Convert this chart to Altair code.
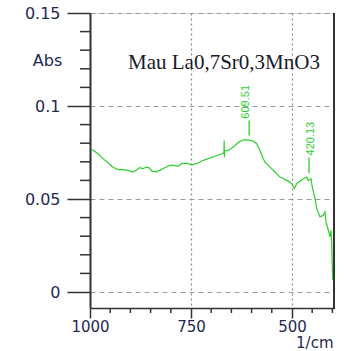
import altair as alt
import pandas as pd

# ---- data ----
wavenumber = [995.0, 980.2, 967.8, 955.4, 943.1, 930.7, 918.3, 905.9, 893.6, 885.4,
              877.0, 868.8, 860.6, 853.9, 846.5, 835.9, 827.5, 815.1, 802.7, 792.1,
              782.2, 773.0, 760.6, 748.3, 735.9, 723.5, 707.2, 690.6, 674.0, 668.5,
              667.9, 667.3, 666.6, 657.7, 645.3, 636.9, 628.7, 620.5, 608.1, 595.8,
              587.4, 579.2, 571.0, 566.8, 554.4, 542.0, 529.7, 522.0, 517.3, 509.1,
              500.7, 494.3, 488.3, 480.2, 472.0, 463.6, 459.6, 452.9, 449.7, 443.0,
              438.8, 430.7, 422.5, 418.3, 415.8, 410.1, 405.9, 403.4, 401.7, 399.2]
absorbance = [0.0766, 0.0743, 0.0717, 0.0695, 0.0671, 0.0658, 0.0658, 0.0654, 0.0645, 0.0654,
              0.0668, 0.0663, 0.0671, 0.0668, 0.0650, 0.0645, 0.0654, 0.0668, 0.0681, 0.0681,
              0.0675, 0.0690, 0.0693, 0.0684, 0.0690, 0.0704, 0.0717, 0.0730, 0.0743, 0.0748,
              0.0815, 0.0725, 0.0758, 0.0761, 0.0779, 0.0797, 0.0811, 0.0818, 0.0818, 0.0811,
              0.0797, 0.0761, 0.0717, 0.0698, 0.0671, 0.0645, 0.0618, 0.0612, 0.0604, 0.0596,
              0.0583, 0.0556, 0.0583, 0.0596, 0.0609, 0.0618, 0.0600, 0.0609, 0.0564, 0.0502,
              0.0449, 0.0404, 0.0413, 0.0430, 0.0377, 0.0332, 0.0296, 0.0332, 0.0261, 0.0064]

peak_labels = ["609.51", "420.13"]
peak_x = [606.0, 457.9]          # marker positions (as drawn)
peak_text_x = [614.0, 453.0]
peak_line_low = [0.0841, 0.0638]
peak_line_high = [0.0922, 0.0723]
peak_text_y = [0.0932, 0.0734]

y_major = [0, 0.05, 0.1, 0.15]
y_minor = [0.01, 0.02, 0.03, 0.04, 0.06, 0.07, 0.08, 0.09, 0.11, 0.12, 0.13, 0.14]
x_major = [1000, 750, 500]
x_minor = [950, 900, 850, 800, 700, 650, 600, 550, 450, 400]

sample_title = "Mau La0,7Sr0,3MnO3"
x_title = "1/cm"
y_title = "Abs"

# ---- styling ----
W, H = 244, 295
GREEN = "#2fcf2f"
AX = "#333333"
LBL = "#1f2a50"
FONT = "DejaVu Sans"

xscale = alt.Scale(domain=[1000, 396], nice=False, zero=False)
yscale = alt.Scale(domain=[-0.0086, 0.15], nice=False, zero=False)

spec = pd.DataFrame({"wn": wavenumber, "a": absorbance})

line = alt.Chart(spec).mark_line(color=GREEN, strokeWidth=1.2).encode(
    x=alt.X("wn:Q", scale=xscale,
            axis=alt.Axis(values=x_major, format="d", tickSize=10, tickWidth=1.5,
                          tickColor=AX, domainColor=AX, domainWidth=1.5,
                          grid=True, gridDash=[2, 3], gridColor="#8a8a8a", gridWidth=1.2,
                          labelFont=FONT, labelFontSize=15, labelColor=LBL,
                          labelPadding=1, labelFlush=False, labelOverlap=False,
                          title=x_title, titleFont=FONT, titleFontSize=15,
                          titleFontWeight="normal", titleColor=LBL,
                          titleX=243, titleY=34, titleAlign="right",
                          titleBaseline="middle")),
    y=alt.Y("a:Q", scale=yscale,
            axis=alt.Axis(values=y_major,
                          labelExpr="datum.value == 0 ? '0' : format(datum.value, '.2~f')",
                          tickSize=23, tickWidth=1.5, tickColor=AX,
                          domainColor=AX, domainWidth=2,
                          grid=True, gridDash=[5, 4], gridColor="#9a9a9a", gridWidth=1.2,
                          labelFont=FONT, labelFontSize=16, labelColor=LBL,
                          labelPadding=7, labelFlush=False, labelOverlap=False,
                          title=y_title, titleFont=FONT, titleFontSize=16,
                          titleFontWeight="normal", titleColor=LBL, titleAngle=0,
                          titleX=-43, titleY=47, titleAlign="center",
                          titleBaseline="middle")),
)

ymin = alt.Chart(pd.DataFrame({"v": y_minor})).mark_rule(color=AX, strokeWidth=1.5).encode(
    y=alt.Y("v:Q", scale=yscale),
    x=alt.value(-10), x2=alt.value(0),
)
xmin = alt.Chart(pd.DataFrame({"v": x_minor})).mark_rule(color=AX, strokeWidth=1.5).encode(
    x=alt.X("v:Q", scale=xscale),
    y=alt.value(H), y2=alt.value(H + 5),
)
border = alt.Chart(pd.DataFrame({"v": [0]})).mark_rule(color=AX, strokeWidth=2).encode(
    x=alt.value(W), y=alt.value(0), y2=alt.value(H + 1),
)

peaks = pd.DataFrame({"label": peak_labels, "x": peak_x, "tx": peak_text_x,
                      "lo": peak_line_low, "hi": peak_line_high, "ty": peak_text_y})
prules = alt.Chart(peaks).mark_rule(color=GREEN, strokeWidth=1.3).encode(
    x=alt.X("x:Q", scale=xscale),
    y=alt.Y("lo:Q", scale=yscale),
    y2="hi:Q",
)
ptext = alt.Chart(peaks).mark_text(color=GREEN, angle=270, align="left",
                                   baseline="middle", font="Liberation Sans",
                                   fontSize=11).encode(
    x=alt.X("tx:Q", scale=xscale),
    y=alt.Y("ty:Q", scale=yscale),
    text="label:N",
)

title = alt.Chart(pd.DataFrame({"t": [sample_title]})).mark_text(
    font="Liberation Serif", fontSize=21, color="#1a1a2a",
    align="center", baseline="alphabetic").encode(
    x=alt.value(134), y=alt.value(56), text="t:N")

chart = alt.layer(line, ymin, xmin, border, prules, ptext, title).properties(
    width=W, height=H,
    padding={"left": 90, "top": 13, "right": 10, "bottom": 43},
    autosize=alt.AutoSizeParams(type="none"),
).configure_view(stroke=None).configure(background="white")

chart.save("out.html", embed_options={"renderer": "svg", "actions": False})
